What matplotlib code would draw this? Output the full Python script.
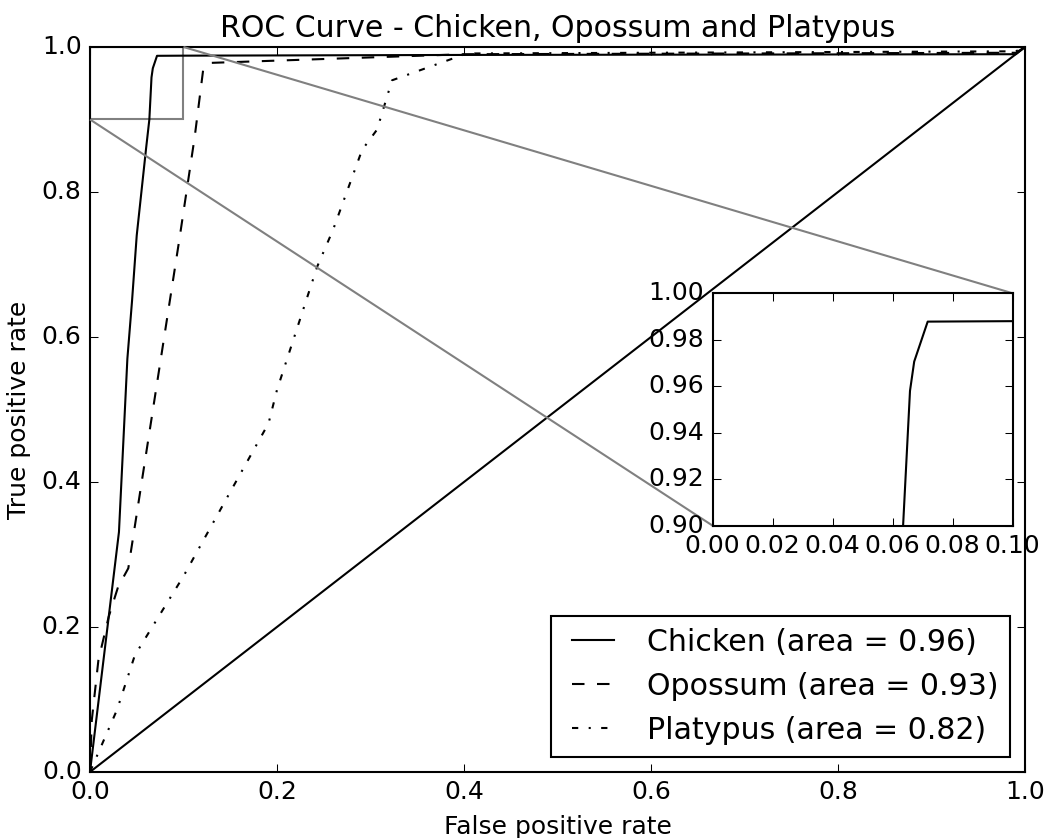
import numpy as np
import matplotlib
matplotlib.use("Agg")
import matplotlib.pyplot as plt
from mpl_toolkits.axes_grid1.inset_locator import mark_inset

plt.style.use('classic')

# ROC points
chicken_fpr = [0.0, 0.031, 0.040, 0.045, 0.050, 0.055, 0.060, 0.0635, 0.0658, 0.0672, 0.0717, 0.10, 0.40, 0.99, 1.0]
chicken_tpr = [0.0, 0.331, 0.570, 0.650, 0.740, 0.800, 0.860, 0.900, 0.958, 0.9706, 0.9878, 0.988, 0.989, 0.990, 1.0]

opossum_fpr = [0.0, 0.002, 0.009, 0.020, 0.030, 0.041, 0.096, 0.112, 0.121, 0.128, 0.40, 0.99, 1.0]
opossum_tpr = [0.0, 0.072, 0.154, 0.214, 0.255, 0.281, 0.738, 0.876, 0.968, 0.978, 0.990, 0.992, 1.0]

platypus_fpr = [0.0, 0.029, 0.048, 0.10, 0.146, 0.191, 0.200, 0.243, 0.260, 0.291, 0.307, 0.323, 0.403, 0.99, 1.0]
platypus_tpr = [0.0, 0.086, 0.161, 0.270, 0.377, 0.481, 0.527, 0.697, 0.748, 0.858, 0.886, 0.954, 0.991, 0.994, 1.0]

labels = ['Chicken (area = 0.96)', 'Opossum (area = 0.93)', 'Platypus (area = 0.82)']
styles = ['-', '--', '-.']

fig = plt.figure(figsize=(7.007, 5.587), dpi=150)
ax = fig.add_axes([0.0856, 0.0788, 0.8897, 0.8651])

curves = [(chicken_fpr, chicken_tpr), (opossum_fpr, opossum_tpr), (platypus_fpr, platypus_tpr)]
ax.plot([0, 1], [0, 1], 'k-')
for (x, y), ls, lab in zip(curves, styles, labels):
    ax.plot(x, y, color='k', linestyle=ls, label=lab)
ax.set_xlim(0, 1)
ax.set_ylim(0, 1)
ax.set_xlabel('False positive rate')
ax.set_ylabel('True positive rate')
ax.set_title('ROC Curve - Chicken, Opossum and Platypus')
ax.legend(loc='lower right', fontsize='large')

# zoomed inset of the upper left corner
axins = fig.add_axes([0.678, 0.3727, 0.2854, 0.2773])
axins.plot([0, 1], [0, 1], 'k-')
for (x, y), ls in zip(curves, styles):
    axins.plot(x, y, color='k', linestyle=ls)
axins.set_xlim(0, 0.1)
axins.set_ylim(0.9, 1.0)
mark_inset(ax, axins, loc1=1, loc2=3, fc="none", ec="0.5")

plt.savefig('out.png', dpi=150)
